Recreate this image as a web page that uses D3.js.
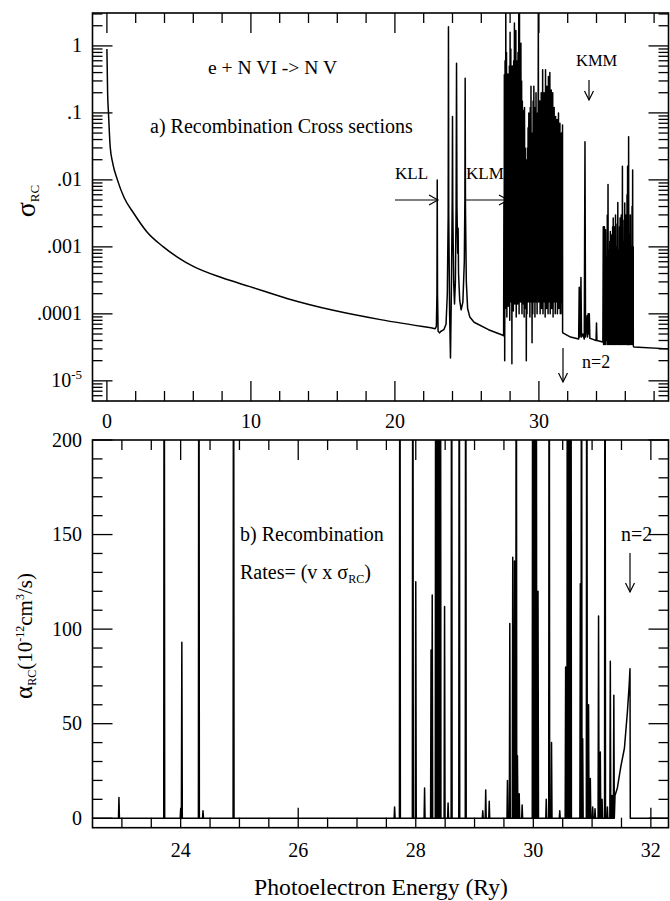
<!DOCTYPE html>
<html><head><meta charset="utf-8">
<script src="https://cdn.jsdelivr.net/npm/d3@7"></script>
<style>
body{margin:0;background:#fff}
svg{display:block}
text{font-family:"Liberation Serif","Times New Roman",serif;fill:#000}
</style>
</head><body>
<svg id="c" width="670" height="901"></svg>
<script>
// ---------------- DATA ----------------
// Panel a: recombination cross sections sigma_RC vs photoelectron energy (Ry)
const sigmaContinuumLow = [
  [0.00,0.9],[0.02,0.5],[0.05,0.2],[0.11,0.1],[0.23,0.031],[0.40,0.018],[0.73,0.01],
  [1.20,5.4e-3],[1.85,3.2e-3],[2.80,1.65e-3],[3.92,1.0e-3],[5.00,6.8e-4],[6.00,5.1e-4],
  [8.00,3.45e-4],[9.93,2.55e-4],[12.50,1.7e-4],[15.80,1.12e-4],[19.00,8.2e-5],[22.50,6.2e-5]
];
const sigmaKLL = [
  [22.80,6.0e-5],[22.88,6.5e-5],[22.92,2e-4],[22.94,0.01],[22.96,2e-4],[23.00,5.5e-5],
  [23.10,5.2e-5],[23.20,5.5e-5],[23.40,5.8e-5],[23.55,7e-5],[23.64,2e-4],[23.70,3e-3],
  [23.72,1.94],[23.74,3e-3],[23.80,1e-4],[23.86,2.2e-5],[23.92,2e-4],[23.98,5e-3],
  [24.00,0.088],[24.02,4e-3],[24.08,3e-4],[24.14,1.4e-4],[24.20,3e-4],[24.25,4e-3],
  [24.28,0.55],[24.31,4e-3],[24.36,8e-4],[24.39,1.9e-3],[24.42,4e-4],[24.50,1.6e-4],
  [24.60,1.15e-4],[24.72,1.5e-4],[24.82,6e-4],[24.86,5e-3],[24.88,0.33],[24.90,4e-3],
  [24.96,3e-4],[25.05,1.2e-4],[25.20,9e-5],[25.50,7.5e-5],[26.50,5.8e-5],[27.50,4.8e-5],
  [27.55,4.7e-5]
];
// KLM resonances: [energy, peak sigma, minimum after the peak]
const sigmaKLM = [
  [27.57,4.5e-3,6e-5],[27.60,0.37,2.0e-5],[27.65,0.6,1.2e-4],[27.70,5,2.0e-4],[27.75,0.8,9e-5],
  [27.80,0.2,3e-4],[27.85,0.38,1.3e-4],[27.90,0.15,2e-4],[27.95,0.5,8e-5],[28.00,1.6,3e-4],
  [28.05,0.9,1.5e-4],[28.10,0.3,1.8e-5],[28.15,0.5,2e-4],[28.20,0.2,1.1e-4],[28.25,0.6,3e-4],
  [28.30,2.2,1.4e-4],[28.35,0.4,2e-4],[28.40,1.7,9e-5],[28.45,0.6,2.5e-4],[28.50,0.3,1.4e-4],
  [28.55,0.8,2e-4],[28.60,3.0,1e-4],[28.65,5,3e-4],[28.70,0.5,1.5e-4],[28.75,1.1,2e-4],
  [28.80,0.3,1e-4],[28.85,0.15,2.5e-4],[28.90,0.11,1.4e-4],[28.95,0.05,9e-5],[29.00,0.12,2e-4],
  [29.05,0.03,1.2e-4],[29.10,0.02,2.0e-5],[29.15,0.006,1e-4],[29.20,0.03,1.5e-4],[29.25,0.06,2e-4],
  [29.30,0.1,1.5e-4],[29.35,0.04,9e-5],[29.40,0.12,2.5e-4],[29.45,0.25,1.5e-4],[29.50,0.05,3.7e-5],
  [29.55,0.02,1e-4],[29.60,0.15,1.5e-4],[29.65,0.25,2e-4],[29.70,0.08,9e-5],[29.75,0.12,2.5e-4],
  [29.80,0.2,1.5e-4],[29.85,0.036,1e-4],[29.90,0.1,2e-4],[29.96,5,1.5e-4],[30.01,0.08,2e-4],
  [30.06,0.15,1e-4],[30.11,0.06,2.5e-4],[30.16,0.2,1.2e-4],[30.21,0.1,2e-4],[30.26,0.44,1e-4],
  [30.31,0.12,2e-4],[30.36,0.2,1.5e-4],[30.41,0.06,9e-5],[30.46,0.44,2e-4],[30.51,0.1,1.2e-4],
  [30.56,0.25,2.5e-4],[30.61,0.05,1e-4],[30.66,0.35,1.5e-4],[30.71,0.12,2e-4],[30.76,0.4,1e-4],
  [30.81,0.08,2e-4],[30.86,0.22,1.2e-4],[30.91,0.05,2e-4],[30.96,0.2,9e-5],[31.01,0.04,1.5e-4],
  [31.06,0.12,2e-4],[31.11,0.03,1e-4],[31.16,0.088,1.5e-4],[31.21,0.02,2e-4],[31.26,0.08,1e-4],
  [31.31,0.03,1.5e-4],[31.36,0.1,1.2e-4],[31.41,0.02,2e-4],[31.46,0.07,1e-4],[31.51,0.025,1.5e-4],
  [31.56,0.05,1e-4],[31.64,0.066,5.3e-5]
];
const sigmaBeyondEdge = [
  [31.66,5.2e-5],[32.20,4.5e-5],[32.76,4.2e-5],[32.80,2.5e-4],[32.84,4.5e-5],[32.88,6e-5],
  [32.92,3.5e-4],[32.96,4.5e-5],[33.05,5e-5],[33.15,4.2e-5],[33.20,0.037],[33.24,4.5e-5],
  [33.30,6e-5],[33.35,9.4e-5],[33.38,4.5e-5],[33.42,1e-4],[33.46,5e-5],[33.50,1e-4],
  [33.54,4.3e-5],[33.70,4.2e-5],[33.97,4e-5],[34.00,7.3e-5],[34.03,4e-5],[34.44,3.8e-5]
];
// KMM resonances: [energy, peak sigma, minimum after the peak]
const sigmaKMM = [
  [34.47,2e-3,3.5e-5],[34.51,6e-4,4e-5],[34.55,2e-3,3.5e-5],[34.59,5e-4,5e-5],[34.63,1.8e-3,3.5e-5],
  [34.67,7e-4,4e-5],[34.71,4e-4,4.5e-5],[34.75,3e-3,3.5e-5],[34.80,8.5e-3,4e-5],[34.84,9e-4,3.5e-5],
  [34.88,5e-4,5e-5],[34.92,1.2e-3,3.5e-5],[34.96,1.7e-3,4e-5],[35.00,6e-4,3.5e-5],[35.04,1.5e-3,4.5e-5],
  [35.08,5e-4,3.5e-5],[35.12,2e-3,4e-5],[35.16,2.7e-3,3.5e-5],[35.20,8e-4,4e-5],[35.24,2e-3,3.5e-5],
  [35.28,6e-4,5e-5],[35.32,3e-3,3.5e-5],[35.36,1e-3,4e-5],[35.40,7e-4,3.5e-5],[35.44,2.2e-3,4e-5],
  [35.48,4.6e-3,3.5e-5],[35.52,9e-4,4.5e-5],[35.56,5e-4,3.5e-5],[35.60,2e-3,4e-5],[35.64,2.7e-3,3.5e-5],
  [35.68,7e-4,4e-5],[35.72,3e-3,3.5e-5],[35.76,1.5e-3,4e-5],[35.80,0.016,3.5e-5],[35.84,1.2e-3,4.5e-5],
  [35.88,6e-4,3.5e-5],[35.92,2.5e-3,4e-5],[35.96,4.5e-3,3.5e-5],[36.00,9e-4,4e-5],[36.04,3e-3,3.5e-5],
  [36.08,8e-4,4e-5],[36.12,6e-3,3.5e-5],[36.16,0.016,4e-5],[36.20,1.5e-3,3.5e-5],[36.23,0.044,4e-5],
  [36.27,1e-3,3.5e-5],[36.31,1.5e-3,4e-5],[36.35,3e-3,3.5e-5],[36.39,8e-4,4e-5],[36.43,1e-3,3.5e-5],
  [36.47,4e-3,4e-5],[36.51,0.014,3.5e-5],[36.55,1e-3,3.3e-5]
];
const sigmaTail = [[36.60,3.2e-5],[39.00,3.0e-5]];

// Panel b: recombination rates alpha_RC (1e-12 cm^3/s): resonance [energy, peak]
const ratePeaks = [
  [22.95,11],[23.72,400],[24.00,5],[24.02,93],[24.31,400],[24.38,4],[24.90,400],
  [27.64,6],[27.73,400],[27.95,400],[28.00,125],[28.15,16],[28.26,89],[28.28,118],
  [28.34,400],[28.36,400],[28.38,400],[28.40,400],[28.42,400],[28.49,112],[28.55,8],
  [28.61,400],[28.74,400],[28.85,400],[29.14,4],[29.19,15],[29.25,9],[29.56,20],
  [29.60,103],[29.65,138],[29.68,136],[29.71,400],[29.73,33],[29.76,13],[29.81,7],
  [29.99,400],[30.01,400],[30.03,400],[30.05,400],[30.08,120],[30.22,10],[30.27,400],
  [30.31,40],[30.45,4],[30.55,80],[30.58,400],[30.60,400],[30.62,400],[30.64,400],
  [30.80,124],[30.82,400],[30.84,42],[30.91,400],[30.94,60],[30.97,21],[31.01,6],
  [31.05,5],[31.11,107],[31.14,35],[31.17,10],[31.22,400],[31.26,6],[31.31,83],
  [31.34,12],[31.37,65]
];
// smooth rise of the background rate just below the n=2 threshold, then the edge
const rateThreshold = [
  [31.39,12],[31.43,16],[31.49,27.5],[31.55,37],[31.60,56],[31.63,70],[31.645,79],[31.65,0],[32.30,0]
];

// tick labels
const topXTickValues = [0,10,20,30];
const topXTickLabels = ["0","10","20","30"];
const topYTickValues = [1,0.1,0.01,0.001,0.0001,0.00001];
const topYTickLabels = ["1",".1",".01",".001",".0001","10|-5"];
const botXTickValues = [24,26,28,30,32];
const botXTickLabels = ["24","26","28","30","32"];
const botYTickValues = [0,50,100,150,200];
const botYTickLabels = ["0","50","100","150","200"];

// ---------------- LAYOUT ----------------
const L = 92.5, R = 668.5;
const T1 = 13, B1 = 401, T2 = 440, B2 = 827.7;
const svg = d3.select("#c");

const xT = d3.scaleLinear().domain([-1,39]).range([L,R]);
const yT = d3.scaleLog().domain([5e-6,3.1]).range([B1,T1]);
const xB = d3.scaleLinear().domain([22.5,32.3]).range([L,R]);
const yB = d3.scaleLinear().domain([-5,200]).range([B2,T2]);

const defs = svg.append("defs");
defs.append("clipPath").attr("id","clipA").append("rect")
  .attr("x",L).attr("y",T1).attr("width",R-L).attr("height",B1-T1);
defs.append("clipPath").attr("id","clipB").append("rect")
  .attr("x",L).attr("y",T2).attr("width",R-L).attr("height",B2-T2);

// ---------- build series ----------
function resonanceRun(list){
  const out = [];
  list.forEach((p,i)=>{
    out.push([p[0],p[1]]);
    const nx = list[i+1];
    out.push([nx ? (p[0]+nx[0])/2 : p[0]+0.006, p[2]]);
  });
  return out;
}
const topSeries = [].concat([sigmaContinuumLow[sigmaContinuumLow.length-1]], sigmaKLL, resonanceRun(sigmaKLM),
  sigmaBeyondEdge, resonanceRun(sigmaKMM), sigmaTail);

const hw = 0.008;
const botSeries = [[22.5,0]];
ratePeaks.slice().sort((a,b)=>a[0]-b[0]).forEach(p=>{
  botSeries.push([p[0]-hw,0],[p[0],p[1]],[p[0]+hw,0]);
});
rateThreshold.forEach(p=>botSeries.push(p));

// ---------- draw curves ----------
const lineSmooth = d3.line().curve(d3.curveMonotoneX).x(d=>xT(d[0])).y(d=>yT(d[1]));
const lineT = d3.line().x(d=>xT(d[0])).y(d=>yT(d[1]));
const lineB = d3.line().x(d=>xB(d[0])).y(d=>yB(d[1]));

const curveStyle = sel => sel.attr("fill","none").attr("stroke","#000").attr("stroke-width",1.5).attr("stroke-linejoin","round");
svg.append("path").datum(sigmaContinuumLow).attr("d",lineSmooth).attr("clip-path","url(#clipA)").call(curveStyle);
svg.append("path").datum(topSeries).attr("d",lineT).attr("clip-path","url(#clipA)").call(curveStyle);
svg.append("path").datum(botSeries).attr("d",lineB).attr("clip-path","url(#clipB)").call(curveStyle);

// ---------- frames & ticks ----------
const axG = svg.append("g").attr("stroke","#000").attr("stroke-width",1.3);
function frame(t,b){
  axG.append("rect").attr("x",L).attr("y",t).attr("width",R-L).attr("height",b-t)
    .attr("fill","none").attr("stroke-width",1.6);
}
frame(T1,B1); frame(T2,B2);

function xTicks(scale, vals, len, t, b){
  axG.selectAll(null).data(vals).enter().append("line")
    .attr("x1",d=>scale(d)).attr("x2",d=>scale(d)).attr("y1",b).attr("y2",b-len);
  axG.selectAll(null).data(vals).enter().append("line")
    .attr("x1",d=>scale(d)).attr("x2",d=>scale(d)).attr("y1",t).attr("y2",t+len);
}
function yTicks(scale, vals, len){
  axG.selectAll(null).data(vals).enter().append("line")
    .attr("y1",d=>scale(d)).attr("y2",d=>scale(d)).attr("x1",L).attr("x2",L+len);
  axG.selectAll(null).data(vals).enter().append("line")
    .attr("y1",d=>scale(d)).attr("y2",d=>scale(d)).attr("x1",R).attr("x2",R-len);
}
// panel a x ticks
const topXMinor = d3.range(0,39,2).filter(v=>v%10!==0);
xTicks(xT, topXTickValues, 20, T1, B1);
xTicks(xT, topXMinor, 10, T1, B1);
// panel a y ticks (log)
const logMinor = [];
for(let e=-6;e<=0;e++){ for(let k=2;k<=9;k++){ const v=k*Math.pow(10,e); if(v>5e-6 && v<3.1) logMinor.push(v);} }
yTicks(yT, topYTickValues, 20);
yTicks(yT, logMinor, 10);
// panel b ticks
const botXMinor = d3.range(23,32.3,0.5).filter(v=>v%2!==0);
xTicks(xB, botXTickValues, 20, T2, B2);
xTicks(xB, botXMinor, 10, T2, B2);
const botYMinor = d3.range(10,200,10).filter(v=>v%50!==0);
yTicks(yB, botYTickValues, 20);
yTicks(yB, botYMinor, 10);

// ---------- tick labels ----------
const FS = 20;
svg.selectAll(null).data(topXTickValues).enter().append("text")
  .attr("x",d=>xT(d)).attr("y",428).attr("text-anchor","middle").attr("font-size",FS)
  .text((d,i)=>topXTickLabels[i]);
svg.selectAll(null).data(botXTickValues).enter().append("text")
  .attr("x",d=>xB(d)).attr("y",857).attr("text-anchor","middle").attr("font-size",FS)
  .text((d,i)=>botXTickLabels[i]);
topYTickValues.forEach((v,i)=>{
  const lab = topYTickLabels[i];
  const t = svg.append("text").attr("x",82).attr("y",yT(v)+6.5).attr("text-anchor","end").attr("font-size",FS);
  if(lab.includes("|")){
    const [b,s] = lab.split("|");
    t.append("tspan").text(b);
    t.append("tspan").attr("font-size",13).attr("dy",-8).text(s);
  } else t.text(lab);
});
svg.selectAll(null).data(botYTickValues).enter().append("text")
  .attr("x",82).attr("y",d=>yB(d)+6.5).attr("text-anchor","end").attr("font-size",FS)
  .text((d,i)=>botYTickLabels[i]);

// ---------- axis titles ----------
const ya = svg.append("text").attr("transform","translate(35,201) rotate(-90)")
  .attr("text-anchor","middle").attr("font-size",28);
ya.append("tspan").text("σ");
ya.append("tspan").attr("font-size",13).attr("dy",4).text("RC");

const yb = svg.append("text").attr("transform","translate(32,636) rotate(-90)")
  .attr("text-anchor","middle").attr("font-size",21);
yb.append("tspan").attr("font-size",25).text("α");
yb.append("tspan").attr("font-size",12).attr("dy",4).text("RC");
yb.append("tspan").attr("dy",-4).text("(10");
yb.append("tspan").attr("font-size",12).attr("dy",-8).text("-12");
yb.append("tspan").attr("dy",8).text("cm");
yb.append("tspan").attr("font-size",12).attr("dy",-8).text("3");
yb.append("tspan").attr("dy",8).text("/s)");

svg.append("text").attr("x",381).attr("y",895).attr("text-anchor","middle")
  .attr("font-size",23.7).text("Photoelectron Energy (Ry)");

// ---------- annotations ----------
function label(x,y,s,fs){ return svg.append("text").attr("x",x).attr("y",y).attr("font-size",fs).text(s); }
label(208,74,"e + N VI -> N V",19.6);
label(150,133,"a) Recombination Cross sections",20);
label(395,179,"KLL",17);
label(466,179,"KLM",17);
label(576,66,"KMM",16.5);
label(582,368,"n=2",18);
label(240,541,"b) Recombination",20);
const rt = svg.append("text").attr("x",240).attr("y",579).attr("font-size",20);
rt.append("tspan").text("Rates= (v x σ");
rt.append("tspan").attr("font-size",12).attr("dy",4).text("RC");
rt.append("tspan").attr("dy",-4).text(")");
label(621,541,"n=2",20);

const arG = svg.append("g").attr("stroke","#000").attr("stroke-width",1.2).attr("fill","none");
function arrowH(x1,x2,y){
  arG.append("line").attr("x1",x1).attr("x2",x2).attr("y1",y).attr("y2",y);
  arG.append("path").attr("d",`M${x2-9},${y-5}L${x2},${y}L${x2-9},${y+5}`);
}
function arrowV(x,y1,y2){
  arG.append("line").attr("x1",x).attr("x2",x).attr("y1",y1).attr("y2",y2);
  arG.append("path").attr("d",`M${x-4.5},${y2-9}L${x},${y2}L${x+4.5},${y2-9}`);
}
arrowH(395,438,200);
arrowH(466,508,200);
arrowV(589,80,100);
arrowV(563,348,382);
arrowV(630,553,592);
</script>
</body></html>
